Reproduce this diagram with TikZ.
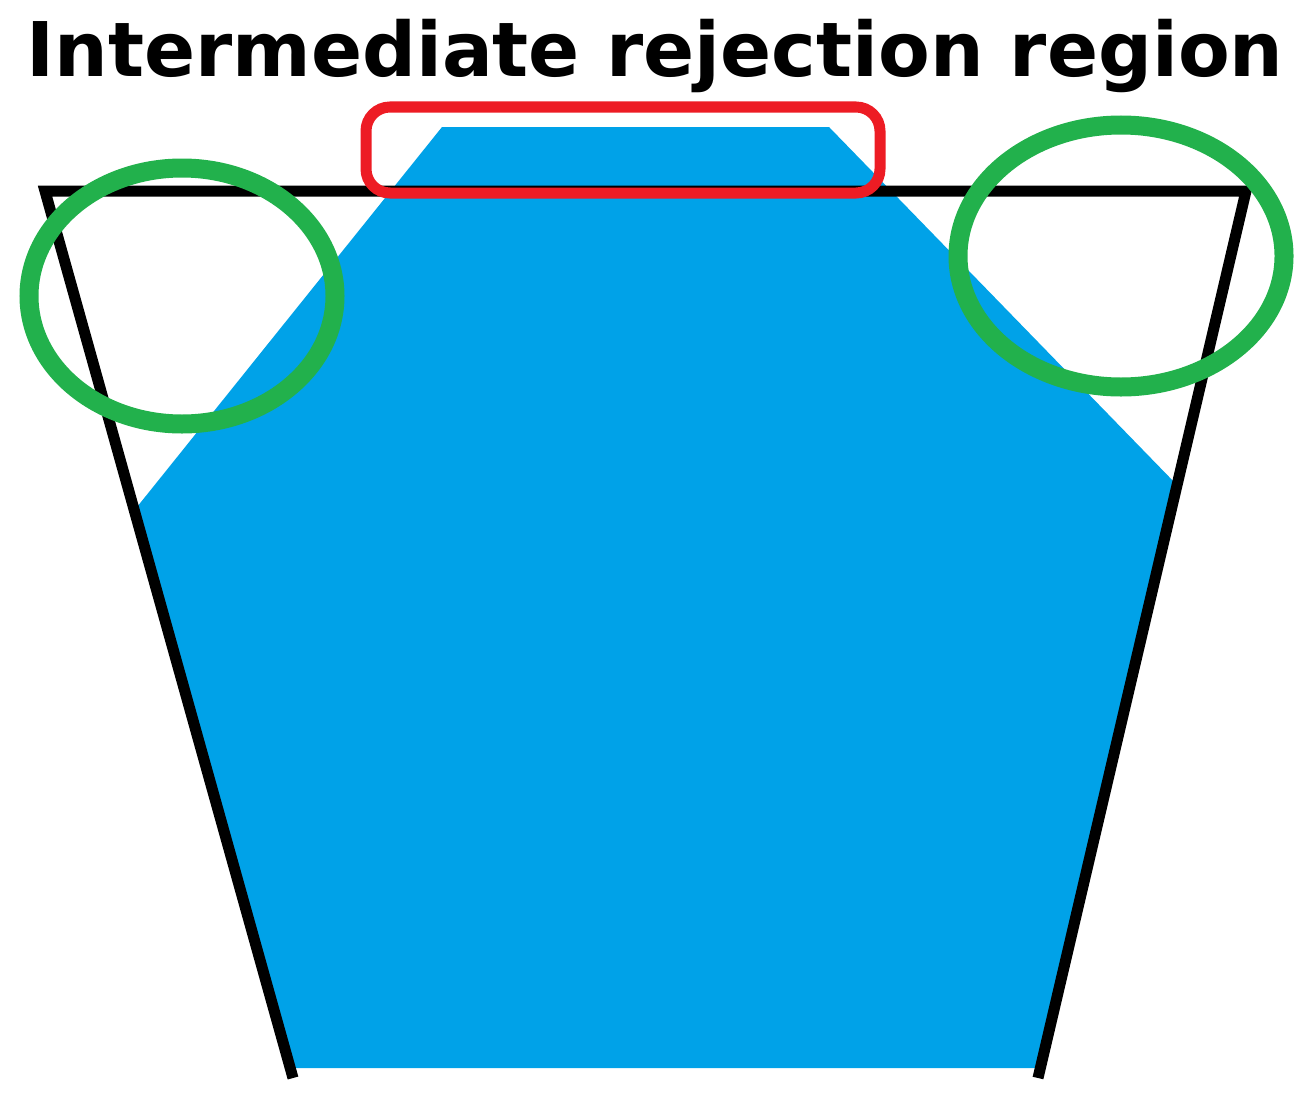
\documentclass[tikz,border=0pt]{standalone}
\usepackage{fontspec}
\setmainfont{DejaVu Sans}
\usepackage{xcolor}
\usepackage{tikz}
\definecolor{paintblue}{RGB}{0,162,232}
\definecolor{paintgreen}{RGB}{34,177,76}
\definecolor{paintred}{RGB}{237,28,36}

\begin{document}
\begin{tikzpicture}[x=0.5pt, y=-0.5pt,
  wall/.style={line width=5.5pt, color=black, line join=miter},
  ring/.style={line width=9.5pt, color=paintgreen},
  topbox/.style={line width=5.5pt, color=paintred, rounded corners=12pt}]
\useasboundingbox (0,0) rectangle (1315,1102);

\node[anchor=base, inner sep=0pt, font=\fontsize{37.7}{40}\selectfont\bfseries] (title) at (655,76) {Intermediate rejection region};

\fill[color=paintblue] (442,127) -- (829,127) -- (1177,485) -- (1035,1068) -- (290,1068) -- (133,512) -- cycle;

\coordinate (lb) at (293,1078);
\coordinate (lt) at (45,191);
\coordinate (rt) at (1246,191);
\coordinate (rb) at (1038,1078);
\draw[wall] (lb) -- (lt) -- (rt) -- (rb);

\draw[topbox] (366,107) rectangle (880,193);

\draw[ring] (182,296) ellipse [x radius=153, y radius=128];
\draw[ring] (1121,256) ellipse [x radius=163, y radius=131];

\end{tikzpicture}
\end{document}
